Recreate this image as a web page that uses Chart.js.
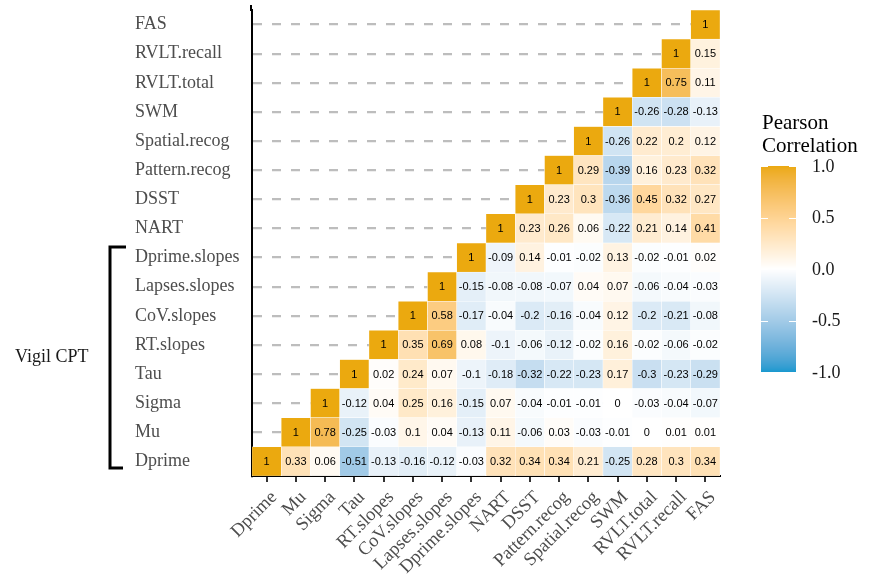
<!DOCTYPE html>
<html>
<head>
<meta charset="utf-8">
<script src="https://cdn.jsdelivr.net/npm/chart.js@4.4.1/dist/chart.umd.min.js"></script>
<style>
  html, body { margin: 0; padding: 0; background: #fff; }
  #wrap { width: 872px; height: 576px; }
</style>
</head>
<body>
<div id="wrap"><canvas id="chart"></canvas></div>
<script>
const vars = ['Dprime', 'Mu', 'Sigma', 'Tau', 'RT.slopes', 'CoV.slopes', 'Lapses.slopes', 'Dprime.slopes',
  'NART', 'DSST', 'Pattern.recog', 'Spatial.recog', 'SWM', 'RVLT.total', 'RVLT.recall', 'FAS'];

// each row starts on the diagonal and runs right to FAS
const rowDprime = [1, 0.33, 0.06, -0.51, -0.13, -0.16, -0.12, -0.03, 0.32, 0.34, 0.34, 0.21, -0.25, 0.28, 0.3, 0.34];
const rowMu = [1, 0.78, -0.25, -0.03, 0.1, 0.04, -0.13, 0.11, -0.06, 0.03, -0.03, -0.01, 0, 0.01, 0.01];
const rowSigma = [1, -0.12, 0.04, 0.25, 0.16, -0.15, 0.07, -0.04, -0.01, -0.01, 0, -0.03, -0.04, -0.07];
const rowTau = [1, 0.02, 0.24, 0.07, -0.1, -0.18, -0.32, -0.22, -0.23, 0.17, -0.3, -0.23, -0.29];
const rowRTslopes = [1, 0.35, 0.69, 0.08, -0.1, -0.06, -0.12, -0.02, 0.16, -0.02, -0.06, -0.02];
const rowCoVslopes = [1, 0.58, -0.17, -0.04, -0.2, -0.16, -0.04, 0.12, -0.2, -0.21, -0.08];
const rowLapsesslopes = [1, -0.15, -0.08, -0.08, -0.07, 0.04, 0.07, -0.06, -0.04, -0.03];
const rowDprimeslopes = [1, -0.09, 0.14, -0.01, -0.02, 0.13, -0.02, -0.01, 0.02];
const rowNART = [1, 0.23, 0.26, 0.06, -0.22, 0.21, 0.14, 0.41];
const rowDSST = [1, 0.23, 0.3, -0.36, 0.45, 0.32, 0.27];
const rowPattern = [1, 0.29, -0.39, 0.16, 0.23, 0.32];
const rowSpatial = [1, -0.26, 0.22, 0.2, 0.12];
const rowSWM = [1, -0.26, -0.28, -0.13];
const rowRVLTtotal = [1, 0.75, 0.11];
const rowRVLTrecall = [1, 0.15];
const rowFAS = [1];

const rows = [rowDprime, rowMu, rowSigma, rowTau, rowRTslopes, rowCoVslopes, rowLapsesslopes, rowDprimeslopes,
  rowNART, rowDSST, rowPattern, rowSpatial, rowSWM, rowRVLTtotal, rowRVLTrecall, rowFAS];

const legendValues = [1, 0.5, 0, -0.5, -1];
const legendLabels = ['1.0', '0.5', '0.0', '-0.5', '-1.0'];
const groupLabel = 'Vigil CPT';

const SERIF = '"Liberation Serif", "DejaVu Serif", serif';
const SANS = '"Liberation Sans", Arial, sans-serif';

// colour scale: white in the middle, interpolated in Lab like ggplot's gradient2
function toLin(c) { c /= 255; return c <= 0.04045 ? c / 12.92 : Math.pow((c + 0.055) / 1.055, 2.4); }
function toByte(c) {
  c = c <= 0.0031308 ? 12.92 * c : 1.055 * Math.pow(c, 1 / 2.4) - 0.055;
  return Math.round(Math.max(0, Math.min(1, c)) * 255);
}
function hexToLab(hex) {
  const r = toLin(parseInt(hex.slice(1, 3), 16));
  const g = toLin(parseInt(hex.slice(3, 5), 16));
  const b = toLin(parseInt(hex.slice(5, 7), 16));
  const x = (0.4124 * r + 0.3576 * g + 0.1805 * b) / 0.95047;
  const y = 0.2126 * r + 0.7152 * g + 0.0722 * b;
  const z = (0.0193 * r + 0.1192 * g + 0.9505 * b) / 1.08883;
  const f = t => t > 0.008856 ? Math.cbrt(t) : 7.787 * t + 16 / 116;
  return [116 * f(y) - 16, 500 * (f(x) - f(y)), 200 * (f(y) - f(z))];
}
function labToRgb(L, a, b) {
  const fy = (L + 16) / 116, fx = fy + a / 500, fz = fy - b / 200;
  const inv = t => t * t * t > 0.008856 ? t * t * t : (t - 16 / 116) / 7.787;
  const x = inv(fx) * 0.95047, y = inv(fy), z = inv(fz) * 1.08883;
  const r = 3.2406 * x - 1.5372 * y - 0.4986 * z;
  const g = -0.9689 * x + 1.8758 * y + 0.0415 * z;
  const bl = 0.0557 * x - 0.2040 * y + 1.0570 * z;
  return `rgb(${toByte(r)},${toByte(g)},${toByte(bl)})`;
}
const LOW = hexToLab('#1799CF');
const MID = hexToLab('#FFFFFF');
const HIGH = hexToLab('#EBA90F');
function corrColor(v) {
  const end = v < 0 ? LOW : HIGH;
  const t = Math.min(1, Math.abs(v));
  return labToRgb(...MID.map((m, i) => m + (end[i] - m) * t));
}

// one floating-bar dataset per row, cells sit between r-0.5 and r+0.5
const datasets = rows.map((vals, r) => ({
  label: vars[r],
  data: vars.map((_, j) => j >= r ? [r - 0.5, r + 0.5] : null),
  corr: vars.map((_, j) => j >= r ? vals[j - r] : null),
  backgroundColor: vars.map((_, j) => j >= r ? corrColor(vals[j - r]) : 'rgba(0,0,0,0)'),
  borderColor: '#ffffff',
  borderWidth: 0.5,
  borderSkipped: false,
  grouped: false,
  barPercentage: 1,
  categoryPercentage: 1
}));

const cellText = {
  id: 'cellText',
  afterDatasetsDraw(chart) {
    const ctx = chart.ctx;
    ctx.save();
    ctx.font = '11px ' + SANS;
    ctx.fillStyle = '#000';
    ctx.textAlign = 'center';
    ctx.textBaseline = 'middle';
    chart.data.datasets.forEach((ds, i) => {
      chart.getDatasetMeta(i).data.forEach((el, j) => {
        if (ds.corr[j] === null) return;
        ctx.fillText(String(ds.corr[j]), el.x, (el.y + el.base) / 2 + 0.5);
      });
    });
    ctx.restore();
  }
};

// x labels at 45 degrees, anchored by their top-right corner like ggplot's hjust = vjust = 1
const xLabels = {
  id: 'xLabels',
  afterDraw(chart) {
    const ctx = chart.ctx;
    const x = chart.scales.x;
    ctx.save();
    ctx.font = '18.5px ' + SERIF;
    ctx.fillStyle = '#4d4d4d';
    ctx.textAlign = 'right';
    ctx.textBaseline = 'top';
    vars.forEach((lab, i) => {
      ctx.save();
      ctx.translate(x.getPixelForTick(i) + 1, x.top + 12);
      ctx.rotate(-Math.PI / 4);
      ctx.fillText(lab, 0, 0);
      ctx.restore();
    });
    ctx.restore();
  }
};

const extras = {
  id: 'extras',
  afterDraw(chart) {
    const ctx = chart.ctx;
    const y = chart.scales.y;
    const area = chart.chartArea;
    ctx.save();

    // y axis line runs a little above the top row
    ctx.strokeStyle = '#000';
    ctx.lineWidth = 2;
    ctx.beginPath();
    ctx.moveTo(area.left - 1, 5);
    ctx.lineTo(area.left - 1, area.top + 1);
    ctx.stroke();

    // bracket for the Vigil CPT group
    const top = y.getPixelForValue(7.5) + 4;
    const bot = y.getPixelForValue(-0.5) - 8;
    ctx.lineWidth = 3;
    ctx.beginPath();
    ctx.moveTo(126, top);
    ctx.lineTo(110, top);
    ctx.lineTo(110, bot);
    ctx.lineTo(123, bot);
    ctx.stroke();
    ctx.font = '18px ' + SERIF;
    ctx.fillStyle = '#1a1a1a';
    ctx.textAlign = 'left';
    ctx.textBaseline = 'middle';
    ctx.fillText(groupLabel, 15, (top + bot) / 2);

    // colour bar legend
    const bx = 761, bw = 35, by = 166, bh = 206;
    ctx.font = '21px ' + SERIF;
    ctx.fillStyle = '#000';
    ctx.fillText('Pearson', 762, 123);
    ctx.fillText('Correlation', 762, 146);
    for (let k = 0; k < bh; k++) {
      ctx.fillStyle = corrColor(1 - 2 * (k + 0.5) / bh);
      ctx.fillRect(bx, by + k, bw, 1);
    }
    ctx.strokeStyle = '#ffffff';
    ctx.lineWidth = 1;
    ctx.font = '18px ' + SERIF;
    ctx.fillStyle = '#1a1a1a';
    legendValues.forEach((v, i) => {
      const py = by + (1 - v) / 2 * bh;
      const ty = Math.round(py) + 0.5;
      ctx.beginPath();
      ctx.moveTo(bx, ty); ctx.lineTo(bx + 7, ty);
      ctx.moveTo(bx + bw - 7, ty); ctx.lineTo(bx + bw, ty);
      ctx.stroke();
      ctx.fillText(legendLabels[i], 812, py + 1);
    });
    ctx.restore();
  }
};

new Chart(document.getElementById('chart'), {
  type: 'bar',
  data: { labels: vars, datasets: datasets },
  options: {
    responsive: true,
    maintainAspectRatio: false,
    animation: false,
    layout: { padding: { top: 10, left: 135, right: 152, bottom: 0 } },
    plugins: { legend: { display: false }, tooltip: { enabled: false } },
    scales: {
      x: {
        type: 'category',
        offset: true,
        grid: { display: true, drawOnChartArea: false, drawTicks: true, tickLength: 6, color: '#333', lineWidth: 2, offset: false },
        border: { display: true, color: '#000', width: 2 },
        ticks: { display: false, autoSkip: false },
        afterFit: s => { s.height = 100; s.paddingLeft = 0; s.paddingRight = 0; }
      },
      y: {
        type: 'linear',
        min: -0.5,
        max: 15.5,
        afterBuildTicks: s => { s.ticks = vars.map((_, i) => ({ value: i })); },
        grid: { color: '#bdbdbd', lineWidth: 2.2, drawTicks: false },
        border: { display: true, color: '#000', width: 2, dash: [9, 10] },
        ticks: {
          callback: v => vars[v],
          crossAlign: 'far',
          padding: 10,
          color: '#4d4d4d',
          font: { family: SERIF, size: 18 }
        },
        afterFit: s => { s.width = 117; s.paddingTop = 0; s.paddingBottom = 0; }
      }
    }
  },
  plugins: [cellText, xLabels, extras]
});
</script>
</body>
</html>
